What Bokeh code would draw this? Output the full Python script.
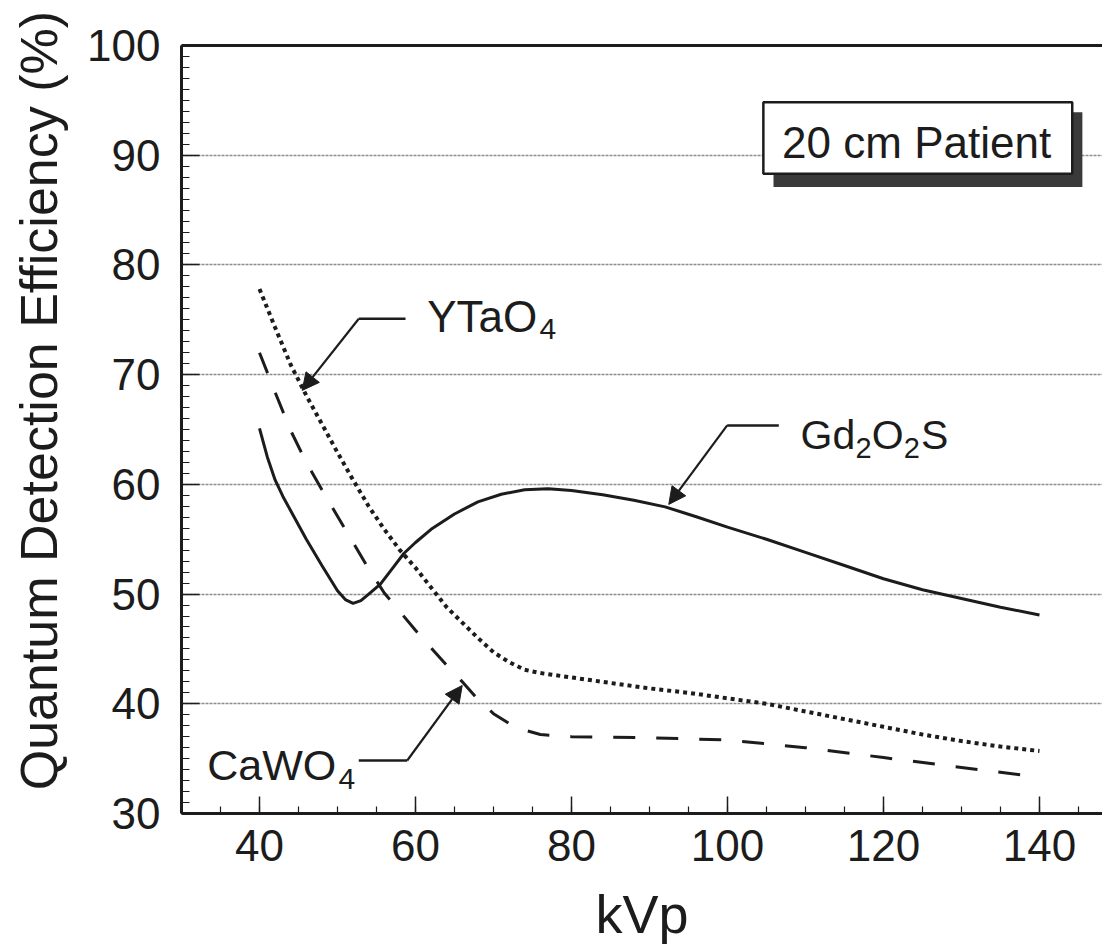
from bokeh.plotting import figure
from bokeh.models import (Range1d, SingleIntervalTicker, LinearAxis, FixedTicker,
                          Label, BoxAnnotation, Arrow, NormalHead)
from bokeh.embed import file_html
from bokeh.resources import INLINE

# ---------------- data ----------------
kvp_gd = [40, 41, 42, 43, 44, 45, 46, 48, 50, 51, 52, 53, 54, 55.5, 57, 58.5, 60, 62, 65, 68,
          71, 74, 77, 80, 84, 88, 92, 96, 100, 105, 110, 115, 120, 125, 130, 135, 140]
qde_gd = [65.1, 62.5, 60.4, 58.9, 57.6, 56.3, 55.0, 52.6, 50.3, 49.5, 49.15, 49.4, 50.0, 50.9,
          52.3, 53.7, 54.7, 55.9, 57.3, 58.4, 59.1, 59.5, 59.6, 59.45, 59.05, 58.55, 57.95,
          57.05, 56.1, 55.0, 53.8, 52.6, 51.4, 50.4, 49.6, 48.8, 48.1]

kvp_yt = [40, 42, 44, 46, 48, 50, 52, 54, 56, 58, 60, 62, 64, 66, 68, 70, 72, 74, 76,
          80, 85, 90, 95, 100, 105, 110, 115, 120, 125, 130, 135, 140]
qde_yt = [77.8, 74.3, 70.9, 68.1, 65.5, 62.9, 60.4, 58.0, 55.9, 54.0, 52.4, 50.6, 48.8, 47.4,
          46.0, 44.7, 43.8, 43.1, 42.8, 42.4, 41.9, 41.4, 41.0, 40.5, 40.0, 39.3, 38.6, 37.9,
          37.2, 36.6, 36.1, 35.7]

kvp_ca = [40, 42, 44, 46, 48, 50, 52, 54, 56, 58, 60, 62, 64, 66, 68, 70, 72, 74, 76,
          80, 90, 100, 110, 120, 130, 140]
qde_ca = [72.0, 68.4, 64.9, 62.0, 59.5, 57.1, 54.7, 52.3, 50.1, 48.4, 46.7, 45.1, 43.5, 42.0,
          40.4, 39.1, 38.2, 37.6, 37.2, 37.0, 36.9, 36.7, 36.0, 35.1, 34.2, 33.3]

x_ticks_major = 20
y_ticks_major = 10
x_title = "kVp"
y_title = "Quantum Detection Efficiency (%)"
box_text = "20 cm Patient"

FONT = "'Liberation Sans', Arial, Helvetica, sans-serif"
INK = "#1c1c1c"

p = figure(width=1102, height=950, output_backend="svg", toolbar_location=None,
           x_range=Range1d(30, 148.08), y_range=Range1d(30, 100),
           min_border_left=181, min_border_top=45, min_border_right=0,
           min_border_bottom=137)
p.outline_line_color = None
p.background_fill_color = "white"
p.border_fill_color = "white"

# axes
p.xaxis.ticker = SingleIntervalTicker(interval=x_ticks_major, num_minor_ticks=4)
p.yaxis.ticker = SingleIntervalTicker(interval=y_ticks_major, num_minor_ticks=10)
for ax in (p.xaxis[0], p.yaxis[0]):
    ax.axis_line_width = 3
    ax.axis_line_color = INK
    ax.major_tick_out = 0
    ax.minor_tick_out = 0
    ax.major_tick_line_color = INK
    ax.minor_tick_line_color = INK
    ax.major_tick_line_width = 1.5
    ax.minor_tick_line_width = 1.2
    ax.major_label_text_font = FONT
    ax.major_label_text_font_size = "44px"
    ax.major_label_text_color = INK
    ax.axis_label_text_font = FONT
    ax.axis_label_text_font_style = "normal"
    ax.axis_label_text_color = INK
p.xaxis.major_tick_in = 17
p.xaxis.minor_tick_in = 7
p.yaxis.major_tick_in = 18
p.yaxis.minor_tick_in = 8
p.xaxis.major_label_standoff = 16
p.yaxis.major_label_standoff = 21

p.xaxis.axis_label = x_title
p.xaxis.axis_label_text_font_size = "54px"
p.xaxis.axis_label_standoff = 20
# leading no-break spaces nudge the centred title upward, as in the reference
p.yaxis.axis_label = "\u00a0\u00a0\u00a0\u00a0" + y_title
p.yaxis.axis_label_text_font_size = "52px"
p.yaxis.axis_label_standoff = 16

top_axis = LinearAxis(ticker=FixedTicker(ticks=[]), axis_line_width=3, axis_line_color=INK,
                      major_tick_in=0, major_tick_out=0, minor_tick_in=0, minor_tick_out=0,
                      major_label_text_font_size="0px")
p.add_layout(top_axis, "above")

p.xgrid.grid_line_color = None
p.ygrid.grid_line_color = "#8c8c8c"
p.ygrid.grid_line_width = 1.5
p.ygrid.grid_line_dash = "3 1"

# curves
p.line(kvp_gd, qde_gd, line_color=INK, line_width=3)
p.line(kvp_yt, qde_yt, line_color=INK, line_width=4, line_dash="4 4")
p.line(kvp_ca, qde_ca, line_color=INK, line_width=3, line_dash="22 21")

# "20 cm Patient" box with shadow
p.add_layout(BoxAnnotation(left=105.9, right=145.5, bottom=87.1, top=93.92,
                           fill_color="#3a3a3a", fill_alpha=1, line_color=None))
p.add_layout(BoxAnnotation(left=104.6, right=144.2, bottom=88.31, top=94.83,
                           fill_color="white", fill_alpha=1, line_color=INK,
                           line_alpha=1, line_width=2.5))

DY = 1.37  # baseline correction of Bokeh labels, in data units

def lab(x, y, t, size, **kw):
    p.add_layout(Label(x=x, y=y + DY, text=t, text_font=FONT, text_font_size=size,
                       text_color=INK, text_baseline="alphabetic", **kw))

lab(107.0, 89.82, box_text, "44px")

# callouts
def callout(h0, h1, y, tip_x, tip_y, elbow_x):
    p.add_layout(Arrow(x_start=h0, y_start=y, x_end=h1, y_end=y, end=None,
                       line_color=INK, line_width=2.4))
    p.add_layout(Arrow(x_start=elbow_x, y_start=y, x_end=tip_x, y_end=tip_y,
                       line_color=INK, line_width=2.2,
                       end=NormalHead(size=17, fill_color=INK, line_color=INK, line_width=1)))

callout(52.73, 58.72, 75.09, 45.47, 68.56, 52.73)
callout(99.96, 106.58, 65.37, 92.47, 58.17, 99.96)
callout(52.73, 58.94, 34.83, 65.99, 41.67, 58.94)

# labels with subscripts
lab(61.5, 73.96, "YTaO", "44px")
lab(75.9, 72.75, "4", "30px")

lab(109.36, 63.09, "Gd", "41px")
lab(116.4, 61.9, "2", "29px")
lab(118.5, 63.09, "O", "41px")
lab(122.6, 61.9, "2", "29px")
lab(124.8, 63.09, "S", "41px")

lab(33.29, 33.01, "CaWO", "43px")
lab(50.13, 31.82, "4", "30px")

open("out.html", "w").write(file_html(p, INLINE))
